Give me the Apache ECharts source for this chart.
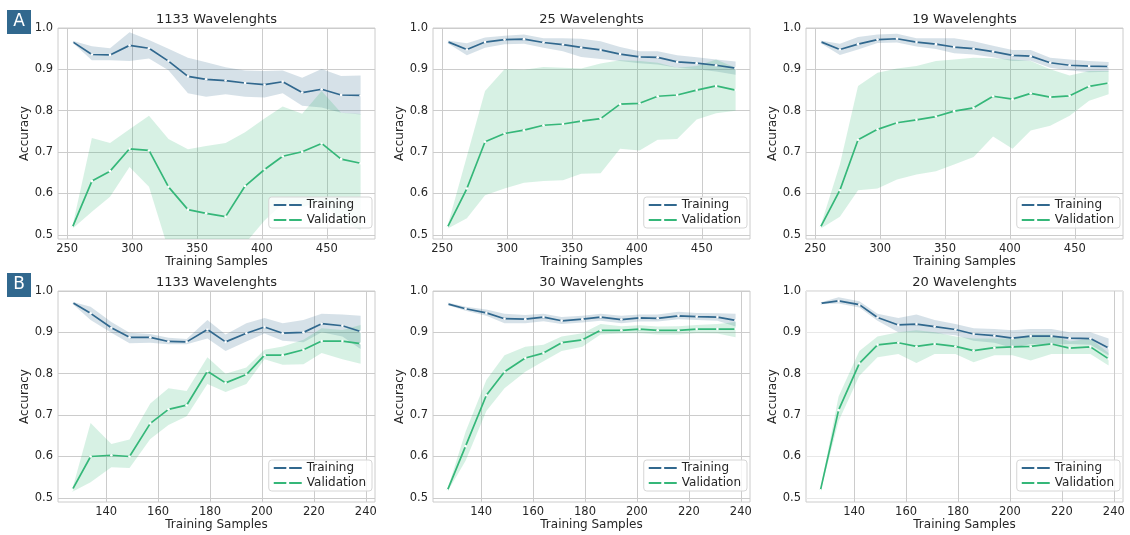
<!DOCTYPE html>
<html>
<head>
<meta charset="utf-8">
<script src="https://cdn.jsdelivr.net/npm/echarts@6/dist/echarts.min.js"></script>
<style>
  html, body { margin: 0; padding: 0; background: #fff; }
  #main { width: 1130px; height: 535px; }
</style>
</head>
<body>
<div id="main"></div>
<script>
// training set sizes (x) for the two rows
const samplesA = [254, 269, 283, 298, 313, 328, 343, 357, 372, 387, 402, 416, 431, 446, 461, 476];
const samplesB = [127, 134, 142, 149, 157, 164, 171, 179, 186, 194, 201, 208, 216, 223, 231, 238];
const ticksA = [250, 300, 350, 400, 450];
const ticksB = [140, 160, 180, 200, 220, 240];
const yTicks = [0.5, 0.6, 0.7, 0.8, 0.9, 1.0];
const titles = ['1133 Wavelenghts', '25 Wavelenghts', '19 Wavelenghts',
                '1133 Wavelenghts', '30 Wavelenghts', '20 Wavelenghts'];

// row A, 1133 wavelengths
const trainA1 = [0.967, 0.936, 0.935, 0.958, 0.951, 0.92, 0.883, 0.876, 0.873, 0.867, 0.863, 0.87, 0.844, 0.852, 0.838, 0.837];
const trainA1Hi = [0.969, 0.956, 0.951, 0.99, 0.971, 0.95, 0.928, 0.917, 0.905, 0.897, 0.896, 0.897, 0.88, 0.901, 0.884, 0.885];
const trainA1Lo = [0.965, 0.922, 0.922, 0.92, 0.926, 0.898, 0.842, 0.834, 0.84, 0.834, 0.832, 0.842, 0.812, 0.808, 0.795, 0.791];
const valA1 = [0.518, 0.63, 0.654, 0.708, 0.704, 0.616, 0.561, 0.552, 0.544, 0.618, 0.658, 0.69, 0.701, 0.721, 0.683, 0.673];
const valA1Hi = [0.52, 0.734, 0.722, 0.755, 0.788, 0.732, 0.707, 0.715, 0.722, 0.748, 0.781, 0.81, 0.793, 0.848, 0.795, 0.792];
const valA1Lo = [0.515, 0.556, 0.592, 0.664, 0.616, 0.464, 0.4, 0.38, 0.37, 0.479, 0.535, 0.575, 0.567, 0.583, 0.535, 0.512];

// row A, 25 wavelengths
const trainA2 = [0.967, 0.948, 0.966, 0.972, 0.973, 0.965, 0.96, 0.953, 0.947, 0.937, 0.93, 0.929, 0.918, 0.915, 0.91, 0.903];
const trainA2Hi = [0.97, 0.963, 0.977, 0.981, 0.984, 0.975, 0.975, 0.974, 0.968, 0.954, 0.944, 0.944, 0.934, 0.929, 0.924, 0.919];
const trainA2Lo = [0.964, 0.934, 0.952, 0.961, 0.962, 0.952, 0.944, 0.93, 0.925, 0.92, 0.915, 0.912, 0.904, 0.9, 0.895, 0.887];
const valA2 = [0.518, 0.612, 0.725, 0.745, 0.753, 0.765, 0.768, 0.775, 0.781, 0.816, 0.818, 0.835, 0.838, 0.85, 0.86, 0.85];
const valA2Hi = [0.52, 0.69, 0.848, 0.9, 0.899, 0.906, 0.904, 0.902, 0.914, 0.922, 0.92, 0.916, 0.904, 0.908, 0.924, 0.904];
const valA2Lo = [0.515, 0.54, 0.596, 0.612, 0.626, 0.63, 0.632, 0.648, 0.649, 0.708, 0.704, 0.73, 0.732, 0.779, 0.794, 0.8];

// row A, 19 wavelengths
const trainA3 = [0.967, 0.948, 0.961, 0.972, 0.974, 0.966, 0.961, 0.954, 0.95, 0.943, 0.934, 0.932, 0.916, 0.91, 0.908, 0.907];
const trainA3Hi = [0.97, 0.962, 0.978, 0.984, 0.986, 0.975, 0.975, 0.975, 0.968, 0.957, 0.947, 0.947, 0.928, 0.924, 0.92, 0.918];
const trainA3Lo = [0.964, 0.935, 0.948, 0.964, 0.965, 0.955, 0.949, 0.939, 0.936, 0.929, 0.92, 0.921, 0.904, 0.897, 0.893, 0.894];
const valA3 = [0.518, 0.608, 0.73, 0.755, 0.771, 0.778, 0.786, 0.799, 0.807, 0.835, 0.828, 0.842, 0.833, 0.836, 0.859, 0.867];
const valA3Hi = [0.52, 0.67, 0.86, 0.892, 0.902, 0.908, 0.92, 0.924, 0.928, 0.927, 0.924, 0.92, 0.9, 0.885, 0.896, 0.896];
const valA3Lo = [0.515, 0.544, 0.608, 0.612, 0.634, 0.646, 0.654, 0.67, 0.688, 0.738, 0.708, 0.752, 0.764, 0.788, 0.824, 0.84];

// row B, 1133 wavelengths
const trainB1 = [0.972, 0.946, 0.911, 0.888, 0.888, 0.878, 0.877, 0.907, 0.877, 0.898, 0.913, 0.898, 0.9, 0.921, 0.916, 0.902];
const trainB1Hi = [0.974, 0.962, 0.925, 0.899, 0.896, 0.887, 0.884, 0.93, 0.895, 0.922, 0.935, 0.922, 0.93, 0.945, 0.943, 0.94];
const trainB1Lo = [0.969, 0.93, 0.899, 0.874, 0.875, 0.871, 0.871, 0.885, 0.855, 0.878, 0.897, 0.88, 0.876, 0.9, 0.89, 0.86];
const valB1 = [0.52, 0.6, 0.603, 0.6, 0.68, 0.714, 0.724, 0.806, 0.778, 0.798, 0.845, 0.845, 0.858, 0.879, 0.879, 0.873];
const valB1Hi = [0.522, 0.681, 0.63, 0.641, 0.728, 0.765, 0.758, 0.84, 0.8, 0.815, 0.858, 0.866, 0.882, 0.91, 0.906, 0.918];
const valB1Lo = [0.515, 0.538, 0.574, 0.572, 0.642, 0.676, 0.697, 0.775, 0.756, 0.775, 0.835, 0.822, 0.823, 0.85, 0.835, 0.824];

// row B, 30 wavelengths
const trainB2 = [0.969, 0.957, 0.947, 0.933, 0.932, 0.937, 0.928, 0.932, 0.937, 0.931, 0.935, 0.934, 0.94, 0.938, 0.937, 0.929];
const trainB2Hi = [0.972, 0.962, 0.955, 0.945, 0.942, 0.945, 0.937, 0.94, 0.945, 0.94, 0.943, 0.943, 0.95, 0.947, 0.946, 0.945];
const trainB2Lo = [0.966, 0.952, 0.94, 0.922, 0.922, 0.927, 0.92, 0.924, 0.928, 0.922, 0.926, 0.926, 0.932, 0.93, 0.928, 0.914];
const valB2 = [0.518, 0.625, 0.748, 0.805, 0.838, 0.85, 0.875, 0.882, 0.905, 0.905, 0.908, 0.905, 0.905, 0.908, 0.908, 0.908];
const valB2Hi = [0.52, 0.66, 0.785, 0.845, 0.865, 0.87, 0.89, 0.898, 0.92, 0.915, 0.917, 0.914, 0.915, 0.918, 0.92, 0.925];
const valB2Lo = [0.515, 0.59, 0.71, 0.765, 0.805, 0.83, 0.855, 0.865, 0.895, 0.897, 0.898, 0.895, 0.895, 0.898, 0.897, 0.888];

// row B, 20 wavelengths
const trainB3 = [0.97, 0.976, 0.967, 0.936, 0.918, 0.92, 0.914, 0.907, 0.896, 0.892, 0.886, 0.891, 0.891, 0.886, 0.885, 0.862];
const trainB3Hi = [0.972, 0.985, 0.975, 0.945, 0.935, 0.943, 0.93, 0.92, 0.91, 0.908, 0.905, 0.908, 0.908, 0.9, 0.9, 0.885];
const trainB3Lo = [0.968, 0.97, 0.96, 0.928, 0.9, 0.9, 0.897, 0.893, 0.88, 0.875, 0.862, 0.872, 0.87, 0.872, 0.87, 0.845];
const valB3 = [0.518, 0.712, 0.825, 0.87, 0.875, 0.866, 0.872, 0.866, 0.856, 0.863, 0.865, 0.866, 0.872, 0.862, 0.865, 0.836];
const valB3Hi = [0.52, 0.745, 0.855, 0.89, 0.9, 0.905, 0.9, 0.89, 0.885, 0.885, 0.885, 0.895, 0.895, 0.878, 0.885, 0.85];
const valB3Lo = [0.515, 0.685, 0.795, 0.84, 0.848, 0.826, 0.848, 0.848, 0.828, 0.845, 0.845, 0.832, 0.848, 0.848, 0.848, 0.82];

const FONT = 'DejaVu Sans';
const TXT = '#262626';
const C_TRAIN = '#31688e';
const C_VAL = '#35b779';

const panels = [
  { xs: samplesA, ticks: ticksA, xlim: [242.9, 487.1], t: [trainA1, trainA1Lo, trainA1Hi], v: [valA1, valA1Lo, valA1Hi] },
  { xs: samplesA, ticks: ticksA, xlim: [242.9, 487.1], t: [trainA2, trainA2Lo, trainA2Hi], v: [valA2, valA2Lo, valA2Hi] },
  { xs: samplesA, ticks: ticksA, xlim: [242.9, 487.1], t: [trainA3, trainA3Lo, trainA3Hi], v: [valA3, valA3Lo, valA3Hi] },
  { xs: samplesB, ticks: ticksB, xlim: [121.45, 243.55], t: [trainB1, trainB1Lo, trainB1Hi], v: [valB1, valB1Lo, valB1Hi] },
  { xs: samplesB, ticks: ticksB, xlim: [121.45, 243.55], t: [trainB2, trainB2Lo, trainB2Hi], v: [valB2, valB2Lo, valB2Hi] },
  { xs: samplesB, ticks: ticksB, xlim: [121.45, 243.55], t: [trainB3, trainB3Lo, trainB3Hi], v: [valB3, valB3Lo, valB3Hi] },
];

const lefts = [58, 433, 806];
const tops = [28, 291];
const W = 317, H = 211;

const chart = echarts.init(document.getElementById('main'));

function band(i, xs, lo, hi, fill) {
  return {
    type: 'custom',
    xAxisIndex: i,
    yAxisIndex: i,
    clip: true,
    silent: true,
    z: 1,
    data: [[xs[0], lo[0]]],
    renderItem: (params, api) => {
      const pts = [];
      for (let k = 0; k < xs.length; k++) pts.push(api.coord([xs[k], hi[k]]));
      for (let k = xs.length - 1; k >= 0; k--) pts.push(api.coord([xs[k], lo[k]]));
      return { type: 'polygon', shape: { points: pts }, style: { fill: fill } };
    },
  };
}

function line(i, name, xs, ys, color) {
  return {
    type: 'line',
    name: name,
    xAxisIndex: i,
    yAxisIndex: i,
    z: 3,
    data: xs.map((x, k) => [x, ys[k]]),
    symbol: 'circle',
    symbolSize: 2.6,
    showSymbol: true,
    itemStyle: { color: '#fff', borderWidth: 0 },
    lineStyle: { color: color, width: 1.7 },
    emphasis: { disabled: true },
  };
}

const grid = [], xAxis = [], yAxis = [], series = [], title = [], legend = [];

panels.forEach((p, i) => {
  const col = i % 3, row = Math.floor(i / 3);
  const left = lefts[col], top = tops[row];
  grid.push({
    left: left, top: top, width: W, height: H,
    show: true, borderColor: '#cccccc', borderWidth: 1, backgroundColor: 'transparent',
  });
  xAxis.push({
    type: 'value', gridIndex: i, min: p.xlim[0], max: p.xlim[1],
    name: 'Training Samples', nameLocation: 'middle', nameGap: 15,
    nameTextStyle: { fontFamily: FONT, fontSize: 12, color: TXT },
    axisLine: { show: false },
    axisTick: { show: false, customValues: p.ticks },
    axisLabel: { customValues: p.ticks, fontFamily: FONT, fontSize: 11.5, color: TXT, margin: 4 },
    splitLine: { show: true, lineStyle: { color: '#cccccc', width: 1 } },
  });
  yAxis.push({
    type: 'value', gridIndex: i, min: 0.49, max: 1.0,
    name: 'Accuracy', nameLocation: 'middle', nameGap: 24,
    nameTextStyle: { fontFamily: FONT, fontSize: 12, color: TXT },
    axisLine: { show: false },
    axisTick: { show: false, customValues: yTicks },
    axisLabel: {
      customValues: yTicks, fontFamily: FONT, fontSize: 11.5, color: TXT, margin: 5,
      formatter: (v) => v.toFixed(1),
    },
    splitLine: { show: true, lineStyle: { color: i === 5 ? '#e8e8e8' : '#cccccc', width: 1 } },
  });
  title.push({
    text: titles[i], left: left + W / 2, top: top - 15, textAlign: 'center', padding: 0,
    textStyle: { fontFamily: FONT, fontSize: 13, fontWeight: 'normal', color: TXT },
  });
  legend.push({
    data: ['Training', 'Validation'],
    orient: 'vertical',
    right: 1130 - (left + W - 3),
    top: top + 169,
    itemWidth: 28, itemHeight: 4, itemGap: 3,
    padding: [2, 6, 2, 4],
    backgroundColor: 'rgba(255,255,255,0.8)',
    borderColor: '#d6d6d6', borderWidth: 1, borderRadius: 3,
    textStyle: { fontFamily: FONT, fontSize: 12, color: TXT },
    selectedMode: false,
  });
  series.push(band(i, p.xs, p.t[1], p.t[2], 'rgba(49,104,142,0.2)'));
  series.push(band(i, p.xs, p.v[1], p.v[2], 'rgba(53,183,121,0.2)'));
  series.push(line(i, 'Training', p.xs, p.t[0], C_TRAIN));
  series.push(line(i, 'Validation', p.xs, p.v[0], C_VAL));
});

const badge = (label, y) => ({
  type: 'group', left: 7, top: y,
  children: [
    { type: 'rect', shape: { x: 0, y: 0, width: 24, height: 24 }, style: { fill: '#31688e' } },
    { type: 'text', x: 12, y: 12, style: { text: label, fill: '#fff', font: '17px "DejaVu Sans"', align: 'center', verticalAlign: 'middle' } },
  ],
});

const option = {
  animation: false,
  backgroundColor: '#fff',
  textStyle: { fontFamily: FONT },
  title: title,
  legend: legend,
  grid: grid,
  xAxis: xAxis,
  yAxis: yAxis,
  series: series,
  graphic: [badge('A', 10), badge('B', 273)],
};

chart.setOption(option);
</script>
</body>
</html>
